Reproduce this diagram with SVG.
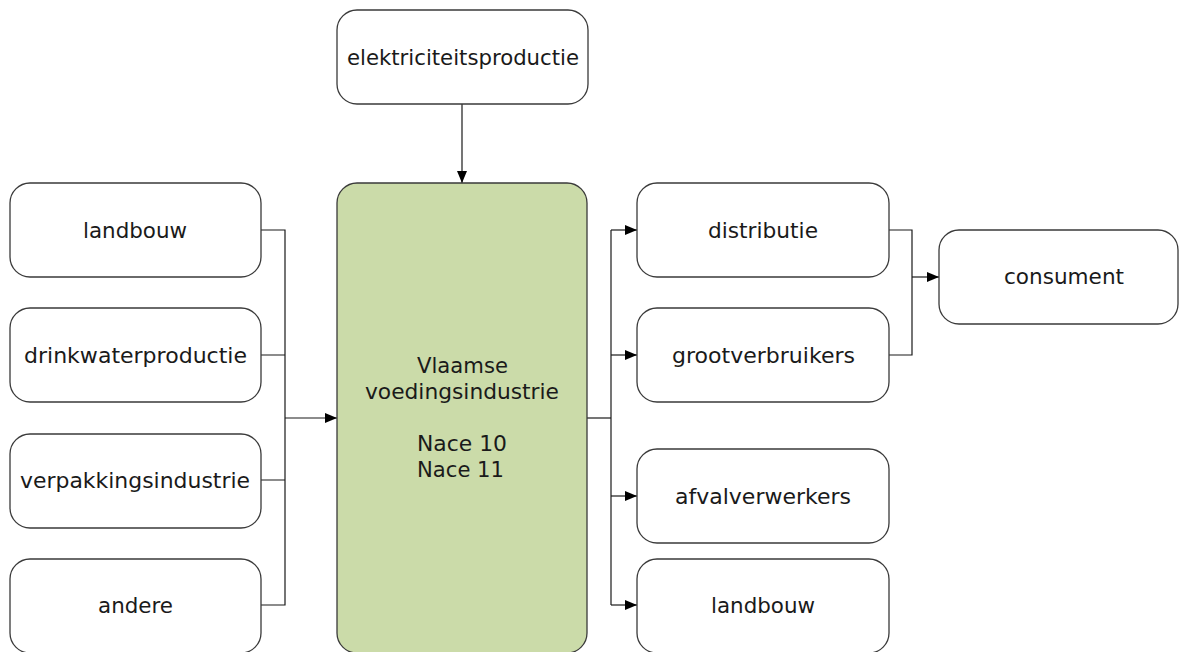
<svg xmlns="http://www.w3.org/2000/svg" width="1179" height="652" viewBox="0 0 1179 652">
<style>
.box{fill:#ffffff;stroke:#3a3a3a;stroke-width:1.3}
.main{fill:#cbdba9;stroke:#3a3a3a;stroke-width:1.3}
.t{font-family:"DejaVu Sans",Verdana,sans-serif;font-size:21px;fill:#1a1a1a;text-anchor:middle}
.c{fill:none;stroke:#1a1a1a;stroke-width:1.2}
</style>
<defs>
<marker id="ah" viewBox="0 0 12 10" refX="12" refY="5" markerWidth="12" markerHeight="10" markerUnits="userSpaceOnUse" orient="auto">
<path d="M0,0 L12,5 L0,10 Z" fill="#000"/>
</marker>
</defs>
<rect width="1179" height="652" fill="#ffffff"/>
<g id="connectors">
<path class="c" d="M462,104 V183" marker-end="url(#ah)"/>
<path class="c" d="M261,230 H285 V605 H261"/>
<path class="c" d="M261,355 H285 M261,480 H285"/>
<path class="c" d="M285,418 H337" marker-end="url(#ah)"/>
<path class="c" d="M587,418 H611"/>
<path class="c" d="M611,230 V605"/>
<path class="c" d="M611,230 H637" marker-end="url(#ah)"/>
<path class="c" d="M611,355 H637" marker-end="url(#ah)"/>
<path class="c" d="M611,496 H637" marker-end="url(#ah)"/>
<path class="c" d="M611,605 H637" marker-end="url(#ah)"/>
<path class="c" d="M889,230 H912 V355 H889"/>
<path class="c" d="M912,277 H939" marker-end="url(#ah)"/>
</g>
<g id="elektriciteitsproductie"><rect class="box" x="337" y="10" width="251" height="94" rx="20"/><text class="t" x="463" y="65" textLength="232" lengthAdjust="spacingAndGlyphs">elektriciteitsproductie</text></g>
<g id="landbouw-in"><rect class="box" x="10" y="183" width="251" height="94" rx="20"/><text class="t" x="135" y="238" textLength="104" lengthAdjust="spacingAndGlyphs">landbouw</text></g>
<g id="drinkwaterproductie"><rect class="box" x="10" y="308" width="251" height="94" rx="20"/><text class="t" x="135.5" y="363" textLength="223" lengthAdjust="spacingAndGlyphs">drinkwaterproductie</text></g>
<g id="verpakkingsindustrie"><rect class="box" x="10" y="434" width="251" height="94" rx="20"/><text class="t" x="135" y="488" textLength="230" lengthAdjust="spacingAndGlyphs">verpakkingsindustrie</text></g>
<g id="andere"><rect class="box" x="10" y="559" width="251" height="94" rx="20"/><text class="t" x="135.5" y="613" textLength="75" lengthAdjust="spacingAndGlyphs">andere</text></g>
<g id="voedingsindustrie"><rect class="main" x="337" y="183" width="250" height="470" rx="20"/>
<text class="t" x="462.5" y="373" textLength="91" lengthAdjust="spacingAndGlyphs">Vlaamse</text>
<text class="t" x="462" y="399" textLength="194" lengthAdjust="spacingAndGlyphs">voedingsindustrie</text>
<text class="t" x="462" y="451" textLength="90" lengthAdjust="spacingAndGlyphs">Nace 10</text>
<text class="t" x="460.5" y="477" textLength="87" lengthAdjust="spacingAndGlyphs">Nace 11</text></g>
<g id="distributie"><rect class="box" x="637" y="183" width="252" height="94" rx="20"/><text class="t" x="763" y="238" textLength="110" lengthAdjust="spacingAndGlyphs">distributie</text></g>
<g id="grootverbruikers"><rect class="box" x="637" y="308" width="252" height="94" rx="20"/><text class="t" x="763.5" y="363" textLength="183" lengthAdjust="spacingAndGlyphs">grootverbruikers</text></g>
<g id="afvalverwerkers"><rect class="box" x="637" y="449" width="252" height="94" rx="20"/><text class="t" x="763" y="504" textLength="176" lengthAdjust="spacingAndGlyphs">afvalverwerkers</text></g>
<g id="landbouw-out"><rect class="box" x="637" y="559" width="252" height="94" rx="20"/><text class="t" x="763" y="613" textLength="104" lengthAdjust="spacingAndGlyphs">landbouw</text></g>
<g id="consument"><rect class="box" x="939" y="230" width="239" height="94" rx="20"/><text class="t" x="1064" y="284" textLength="120" lengthAdjust="spacingAndGlyphs">consument</text></g>
</svg>
